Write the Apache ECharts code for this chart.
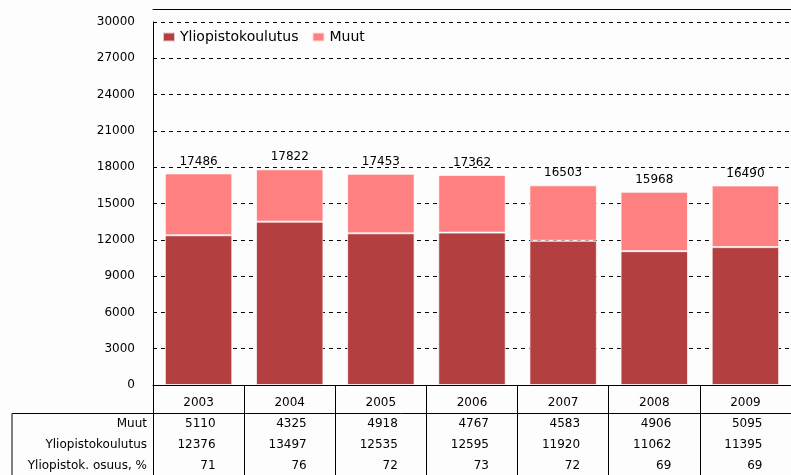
<!DOCTYPE html>
<html>
<head>
<meta charset="utf-8">
<script src="https://cdn.jsdelivr.net/npm/echarts@6/dist/echarts.min.js"></script>
<style>
  html, body { margin: 0; padding: 0; background: #fdfdfd; }
  #main { width: 791px; height: 475px; }
</style>
</head>
<body>
<div id="main"></div>
<script>
// data
const years = ['2003', '2004', '2005', '2006', '2007', '2008', '2009'];
const yliopisto = [12376, 13497, 12535, 12595, 11920, 11062, 11395];
const muut = [5110, 4325, 4918, 4767, 4583, 4906, 5095];
const osuus = [71, 76, 72, 73, 72, 69, 69];
const yMin = 0, yMax = 30000, yStep = 3000;

const totals = [];
for (let i = 0; i < years.length; i++) {
    totals.push(yliopisto[i] + muut[i]);
}

const font = 'DejaVu Sans';

// rows of the data table under the chart
const tableRow = function(name, values, offset) {
    return {
        type: 'category',
        data: years,
        position: 'bottom',
        offset: offset,
        name: name,
        nameLocation: 'start',
        nameGap: 6,
        nameTextStyle: { color: '#000', fontSize: 12, fontFamily: font },
        axisLine: { show: false },
        axisTick: { show: false },
        axisLabel: {
            interval: 0,
            margin: 0,
            verticalAlign: 'middle',
            formatter: function(v, idx) {
                return '{v|' + values[idx] + '}';
            },
            rich: {
                v: { width: 34, align: 'right', color: '#000', fontSize: 12, fontFamily: font }
            }
        }
    };
};

let myChart = echarts.init(document.getElementById('main'));

let option = {
    backgroundColor: '#fdfdfd',
    animation: false,
    textStyle: { fontFamily: font, color: '#000' },
    legend: {
        left: 162,
        top: 30,
        padding: 0,
        itemGap: 13,
        itemWidth: 12,
        itemHeight: 9,
        icon: 'rect',
        textStyle: { fontSize: 14, color: '#000', fontFamily: font },
        data: ['Yliopistokoulutus', 'Muut']
    },
    grid: {
        left: 153,
        right: -7,
        top: 22,
        bottom: 90
    },
    xAxis: [{
        type: 'category',
        data: years,
        position: 'bottom',
        axisLine: { lineStyle: { color: '#000', width: 1 } },
        axisTick: {
            show: true,
            interval: 0,
            length: 90,
            lineStyle: { color: '#000', width: 1 }
        },
        axisLabel: { interval: 0, margin: 12, color: '#000', fontSize: 12 }
    }, {
        // top frame line of the plot
        type: 'category',
        data: years,
        position: 'top',
        offset: 13,
        axisLine: { lineStyle: { color: '#000', width: 1 } },
        axisTick: { show: false },
        axisLabel: { show: false }
    },
        tableRow('Muut', muut, 39),
        tableRow('Yliopistokoulutus', yliopisto, 60),
        tableRow('Yliopistok. osuus, %', osuus, 81)
    ],
    yAxis: {
        type: 'value',
        min: yMin,
        max: yMax,
        interval: yStep,
        axisLine: { show: true, lineStyle: { color: '#000', width: 1 } },
        axisTick: { show: false },
        axisLabel: {
            margin: 18,
            color: '#000',
            fontSize: 12,
            formatter: function(v) {
                return String(v);
            }
        },
        splitLine: {
            show: true,
            lineStyle: { color: '#000', width: 1, type: [4, 4] }
        }
    },
    graphic: [{
        type: 'polyline',
        shape: { points: [[12, 475], [12, 413.5], [791, 413.5]] },
        style: { stroke: '#000', lineWidth: 1, fill: null },
        z: 100
    }],
    series: [{
        name: 'Yliopistokoulutus',
        type: 'bar',
        stack: 'total',
        barCategoryGap: '26%',
        data: yliopisto,
        itemStyle: {
            color: '#b33f40',
            borderColor: 'rgba(255,255,255,0.7)',
            borderWidth: 1
        }
    }, {
        name: 'Muut',
        type: 'bar',
        stack: 'total',
        barCategoryGap: '26%',
        data: muut,
        itemStyle: {
            color: '#ff8080',
            borderColor: 'rgba(255,255,255,0.7)',
            borderWidth: 1
        },
        label: {
            show: true,
            position: 'top',
            distance: 6,
            color: '#000',
            fontSize: 12,
            formatter: function(p) {
                return totals[p.dataIndex];
            }
        }
    }]
};

myChart.setOption(option);

window.addEventListener("resize", function() {
    myChart.resize();
});
</script>
</body>
</html>
